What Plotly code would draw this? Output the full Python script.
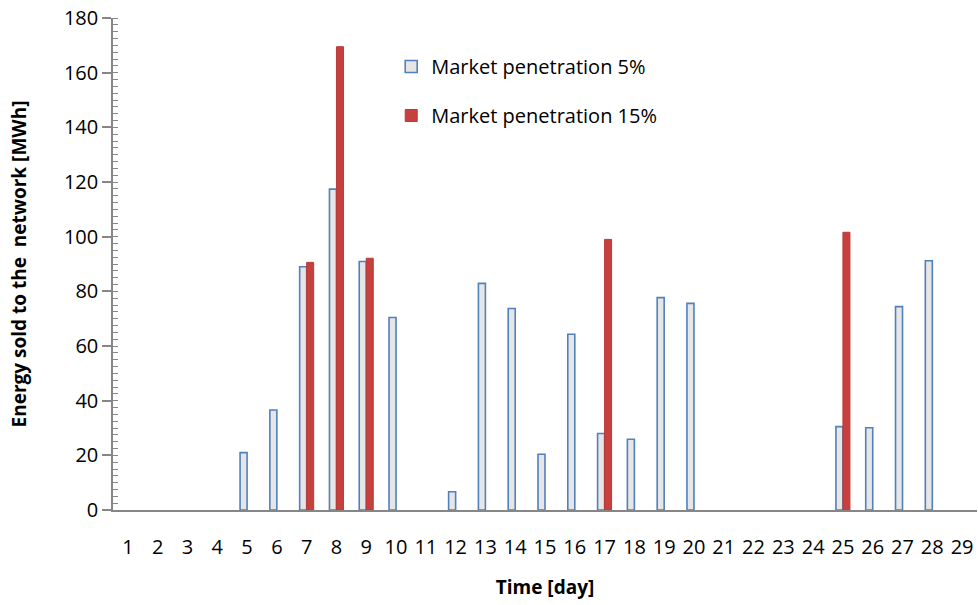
import plotly.graph_objects as go

days = list(range(1, 30))
pen_5 = [0, 0, 0, 0, 21.0, 36.6, 89.0, 117.4, 90.9, 70.4, 0, 6.7, 82.9, 73.7, 20.4,
         64.3, 28.0, 25.9, 77.7, 75.6, 0, 0, 0, 0, 30.5, 30.1, 74.4, 91.2, 0]
pen_15 = [0, 0, 0, 0, 0, 0, 90.6, 169.5, 92.1, 0, 0, 0, 0, 0, 0,
          0, 99.0, 0, 0, 0, 0, 0, 0, 0, 101.6, 0, 0, 0, 0]
tick_labels = [str(d) for d in days]

def nz(vals):
    return [v if v else None for v in vals]

FONT = "Open Sans"

fig = go.Figure()
fig.add_trace(go.Bar(
    x=days, y=nz(pen_5), name="Market penetration 5%",
    marker=dict(color="#e6e6e6", line=dict(color="#4F81BD", width=1.6)),
    legendgroup="a",
))
fig.add_trace(go.Bar(
    x=days, y=nz(pen_15), name="Market penetration 15%",
    marker=dict(color="#c8403d", line=dict(color="#b83a37", width=1)),
    legendgroup="b",
))

fig.update_layout(
    width=978, height=605,
    margin=dict(l=113, r=1, t=18, b=95),
    paper_bgcolor="white", plot_bgcolor="white",
    barmode="group", bargap=0.53, bargroupgap=0.0,
    font=dict(family=FONT, size=20, color="#000000"),
    showlegend=True,
    legend=dict(x=0.322, y=0.941, xanchor="left", yanchor="top",
                bgcolor="rgba(0,0,0,0)", tracegroupgap=20,
                font=dict(family=FONT, size=20)),
    xaxis=dict(
        range=[0.5, 29.5], tickmode="array", tickvals=days, ticktext=tick_labels,
        showline=True, linecolor="#868686", linewidth=2,
        ticks="", showgrid=False, zeroline=False, automargin=False,
        tickfont=dict(family=FONT, size=20), ticklabelstandoff=18,
        title=dict(text="<b>Time [day]</b>", font=dict(family=FONT, size=19), standoff=22),
    ),
    yaxis=dict(
        range=[0, 180], tickmode="linear", tick0=0, dtick=20,
        showline=True, linecolor="#868686", linewidth=1.5,
        ticks="outside", ticklen=9, tickcolor="#868686", tickwidth=1.5,
        minor=dict(ticks="inside", dtick=2.5, ticklen=5, tickcolor="#868686", tickwidth=1),
        showgrid=False, zeroline=False, automargin=False,
        tickfont=dict(family=FONT, size=20),
        title=dict(text="<b>Energy sold to the  network [MWh]</b>", font=dict(family=FONT, size=19), standoff=32),
    ),
)

fig.write_html("out.html", config={"displayModeBar": False},
               post_script="document.body.style.margin='0';document.body.style.padding='0';")
